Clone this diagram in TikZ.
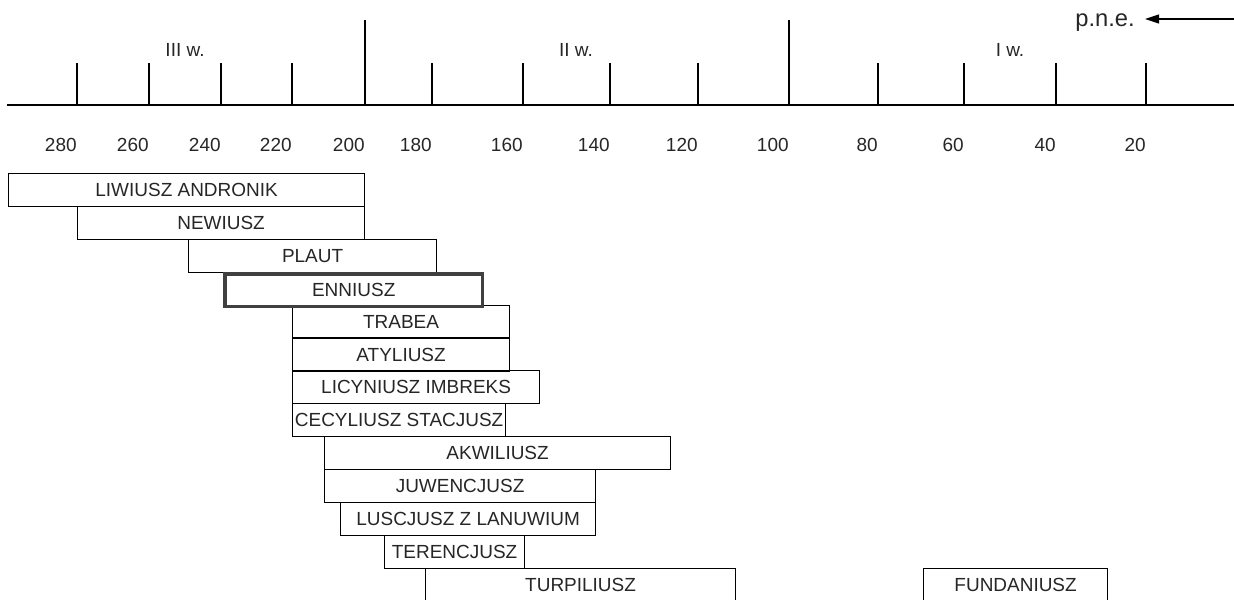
\documentclass[tikz,border=0pt]{standalone}
\usepackage{fontspec}
\setmainfont{Liberation Sans}
\usetikzlibrary{arrows.meta, positioning}

\begin{document}
\begin{tikzpicture}[
    x=0.02cm, y=-0.02cm,
    bar/.style={rectangle, draw, line width=0.7pt, anchor=north west, minimum height=0.658cm, inner sep=0pt, align=center, text=black!85, font=\fontsize{10.8}{12}\selectfont},
    mainbar/.style={bar, line width=2pt, draw=black!75},
    year/.style={anchor=east, inner sep=0pt, text=black!85, font=\fontsize{10.8}{12}\selectfont},
    century/.style={inner sep=0pt, text=black!85, font=\fontsize{10.8}{12}\selectfont},
    tickline/.style={line width=0.8pt},
    arrow/.style={-{Triangle[length=2.8mm, width=1.8mm]}, line width=0.6pt},
]
\useasboundingbox (0,0) rectangle (1234,599);

% Time axis
\coordinate (axisL) at (7,105);
\coordinate (axisR) at (1234,105);
\draw[line width=1.1pt] (axisL) -- (axisR);
\foreach \x in {77,149,221,292,432,523,610,698,878,964,1056,1146}
    \draw[tickline] (\x,63) -- (\x,105);
\draw[tickline, line width=1.3pt] (365,20) -- (365,105);
\draw[tickline] (789,20) -- (789,105);

% Years and centuries
\foreach \x/\yr in {77/280,149/260,221/240,292/220,365/200,432/180,523/160,610/140,698/120,789/100,878/80,964/60,1056/40,1146/20}
    \node[year] (yr\yr) at (\x,145) {\yr};
\node[century] (w3) at (185,50) {III w.};
\node[century] (w2) at (576,50) {II w.};
\node[century] (w1) at (1010,50) {I w.};

% Direction of counting
\node[inner sep=0pt, text=black!85, font=\fontsize{13.5}{15}\selectfont] (pne) at (1105,22.5) {p.n.e.};
\coordinate (arrstart) at (1234,19);
\draw[arrow, shorten >=0.2cm] (arrstart) -- (arrstart -| pne.east);

% Poets
\node[bar, minimum width=7.12cm] (liwiusz)  at (8,173)   {LIWIUSZ ANDRONIK};
\node[bar, minimum width=5.74cm] (newiusz)  at (77,206)  {NEWIUSZ};
\node[bar, minimum width=4.96cm] (plaut)    at (188,239) {PLAUT};
\node[bar, minimum width=4.34cm] (trabea)   at (292,304.5) {TRABEA};
\node[bar, minimum width=4.34cm] (atyliusz) at (292,337.5) {ATYLIUSZ};
\node[bar, minimum width=4.94cm] (licyniusz) at (292,370) {LICYNIUSZ IMBREKS};
\node[bar, minimum width=4.26cm] (cecyliusz) at (292,403) {CECYLIUSZ STACJUSZ};
\node[bar, minimum width=6.92cm] (akwiliusz) at (324,436) {AKWILIUSZ};
\node[bar, minimum width=5.42cm] (juwencjusz) at (324,469) {JUWENCJUSZ};
\node[bar, minimum width=5.10cm] (luscjusz) at (340,502) {LUSCJUSZ Z LANUWIUM};
\node[bar, minimum width=2.80cm] (terencjusz) at (384,535) {TERENCJUSZ};
\node[bar, minimum width=6.20cm] (turpiliusz) at (425,568) {TURPILIUSZ};
\node[bar, minimum width=3.68cm] (fundaniusz) at (923,568) {FUNDANIUSZ};
\node[mainbar, minimum width=5.16cm] (enniusz) at (223,272) {ENNIUSZ};

\end{tikzpicture}
\end{document}
